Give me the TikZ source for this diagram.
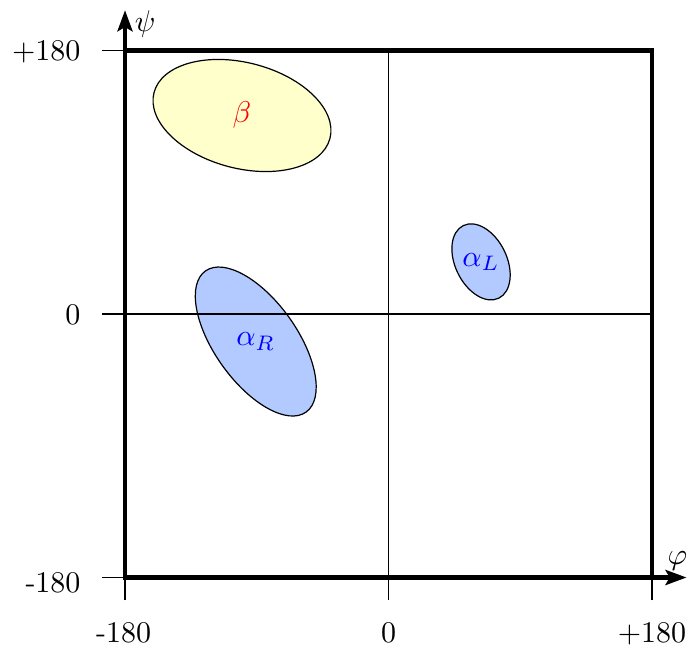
\documentclass[tikz,border=0pt]{standalone}
\usetikzlibrary{arrows.meta}
\definecolor{ellblue}{RGB}{178,202,255}
\definecolor{ellyellow}{RGB}{255,255,204}
\begin{document}
\begin{tikzpicture}[x=0.48796pt,y=0.48796pt,
  frame/.style={line width=1.6pt},
  axisarrow/.style={line width=1.6pt,-{Stealth[length=7pt,width=5pt,inset=1.4pt]}},
  thinline/.style={line width=0.4pt},
  region/.style={draw=black,line width=0.4pt},
  ticklabel/.style={inner sep=0pt,font=\normalsize}]
\useasboundingbox (-265.4,-226.8) rectangle (203.9,214.5);
% centres of regions
\coordinate (cb) at (-100.1,135.6);
\coordinate (cr) at (-90.7,-18.8);
\coordinate (cl) at (63.2,35.6);
% regions
\draw[region,fill=ellyellow,rotate around={-14.6:(cb)}] (cb) ellipse [x radius=62.1,y radius=36.1];
\draw[region,fill=ellblue,rotate around={-54.5:(cr)}] (cr) ellipse [x radius=59.2,y radius=28.1];
\draw[region,fill=ellblue,rotate around={-64:(cl)}] (cl) ellipse [x radius=27.6,y radius=17.6];
% cross lines
\coordinate (hl) at (-195.7,0);
\coordinate (hr) at (180,0);
\coordinate (vt) at (0,180);
\coordinate (vb) at (0,-195.7);
\draw[thinline] (hl) -- (hr);
\draw[thinline] (vt) -- (vb);
% ticks
\coordinate (ytt) at (-195.7,180);
\coordinate (yte) at (-180,180);
\coordinate (ybt) at (-195.7,-180);
\coordinate (ybe) at (-180,-180);
\coordinate (xlt) at (-180,-195.7);
\coordinate (xrt) at (180,-195.7);
\coordinate (xre) at (180,-180);
\draw[thinline] (ytt) -- (yte);
\draw[thinline] (ybt) -- (ybe);
\draw[thinline] (xlt) -- (ybe);
\draw[thinline] (xrt) -- (xre);
% frame
\draw[frame] (-180,-180) rectangle (180,180);
% axes
\coordinate (o) at (-180,-180);
\coordinate (ytip) at (-180,207.5);
\coordinate (xtip) at (203.6,-180);
\draw[axisarrow] (o) -- (ytip);
\draw[axisarrow] (o) -- (xtip);
\node[anchor=base,inner sep=0pt] (psi) at (-166.3,193.3) {$\psi$};
\node[anchor=base west,inner sep=0pt] (phi) at (190.3,-170.8) {$\varphi$};
% tick labels
\node[ticklabel,anchor=base east] (y180) at (-210,173.5) {+180};
\node[ticklabel,anchor=base east] (y0) at (-210,-7.3) {0};
\node[ticklabel,anchor=base east] (ym180) at (-210,-190.4) {-180};
\node[ticklabel,anchor=base] (xm180) at (-181,-224.4) {-180};
\node[ticklabel,anchor=base] (x0) at (0,-224.4) {0};
\node[ticklabel,anchor=base] (x180) at (180,-224.4) {+180};
% region labels
\node[text=red,inner sep=0pt] (lb) at (cb) {$\beta$};
\node[text=blue,inner sep=0pt] (lr) at (cr) {$\alpha_R$};
\node[text=blue,inner sep=0pt] (ll) at (cl) {$\alpha_L$};
\end{tikzpicture}
\end{document}
